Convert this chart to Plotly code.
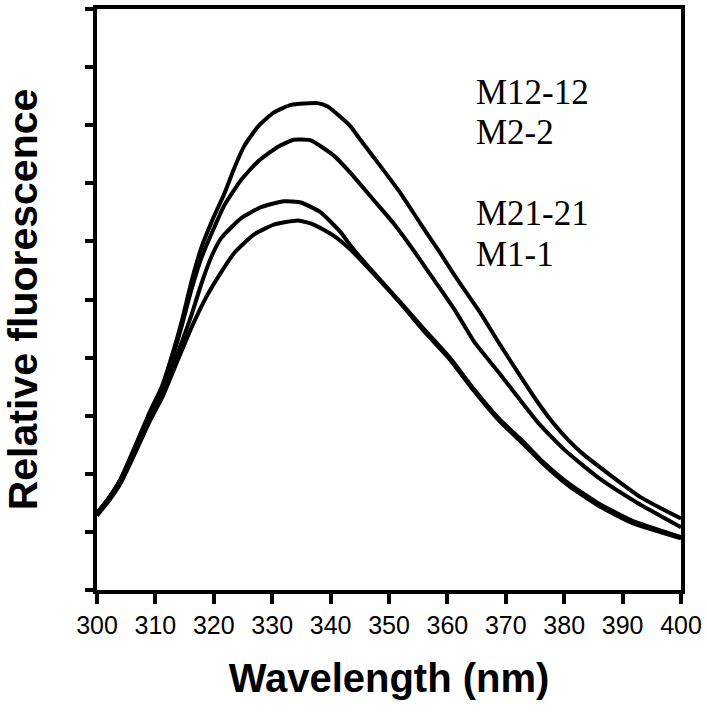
import plotly.graph_objects as go

# Wavelength (nm) and relative fluorescence for each mutant
wl_m12 = [300.0, 302.0, 304.0, 305.7, 307.4, 309.1, 311.1, 312.8, 314.5, 316.2, 317.9, 319.9, 321.8, 323.5,
          325.2, 327.6, 330.3, 333.2, 337.8, 339.5, 341.7, 343.4, 345.1, 348.5, 351.9, 355.3, 358.7, 361.2,
          365.5, 368.9, 372.3, 375.2, 377.9, 380.8, 383.0, 387.6, 393.2, 400.0]
fl_m12 = [1.32, 1.58, 1.90, 2.28, 2.68, 3.08, 3.50, 4.02, 4.62, 5.32, 5.90, 6.40, 6.82, 7.26,
          7.64, 7.98, 8.22, 8.35, 8.38, 8.32, 8.14, 7.98, 7.75, 7.30, 6.84, 6.32, 5.81, 5.42,
          4.79, 4.24, 3.71, 3.27, 2.90, 2.57, 2.36, 2.00, 1.59, 1.23]

wl_m2 = [300.0, 302.0, 304.0, 305.7, 307.4, 309.1, 311.1, 312.8, 314.5, 316.2, 317.9, 319.9, 321.8, 324.7,
         327.6, 331.0, 333.7, 336.6, 340.5, 343.4, 347.3, 350.7, 354.1, 357.0, 361.2, 364.6, 368.9, 372.3,
         375.7, 380.3, 385.9, 392.7, 400.0]
fl_m2 = [1.32, 1.58, 1.90, 2.27, 2.66, 3.05, 3.46, 3.96, 4.54, 5.18, 5.72, 6.20, 6.62, 7.06,
         7.38, 7.63, 7.75, 7.74, 7.48, 7.18, 6.72, 6.32, 5.86, 5.44, 4.83, 4.27, 3.73, 3.29,
         2.86, 2.39, 1.93, 1.49, 1.08]

wl_m21 = [300.0, 302.0, 304.0, 305.7, 307.4, 309.1, 311.1, 313.6, 316.2, 317.9, 319.6, 321.3, 324.7, 328.1,
          332.0, 334.9, 338.3, 341.7, 343.4, 347.3, 351.9, 356.1, 360.4, 364.6, 368.9, 372.3, 376.2,
          380.8, 385.9, 391.5, 400.0]
fl_m21 = [1.32, 1.57, 1.87, 2.22, 2.60, 2.98, 3.38, 4.02, 4.74, 5.28, 5.74, 6.06, 6.40, 6.59,
          6.69, 6.67, 6.50, 6.16, 5.93, 5.47, 4.96, 4.48, 4.00, 3.45, 2.94, 2.62, 2.22,
          1.83, 1.49, 1.20, 0.91]

wl_m1 = [300.0, 302.0, 304.0, 305.7, 307.4, 309.1, 311.1, 313.6, 316.2, 318.7, 320.7, 323.5, 326.9, 330.3,
         334.4, 337.1, 340.5, 343.4, 347.3, 351.9, 356.1, 360.4, 364.6, 368.9, 372.3, 376.2, 380.8, 385.9,
         391.5, 400.0]
fl_m1 = [1.28, 1.53, 1.83, 2.18, 2.55, 2.92, 3.30, 3.90, 4.52, 5.04, 5.38, 5.80, 6.12, 6.29,
         6.36, 6.29, 6.10, 5.86, 5.45, 4.94, 4.44, 3.97, 3.42, 2.91, 2.58, 2.19, 1.79, 1.45,
         1.16, 0.89]

labels = ["M12-12", "M2-2", "M21-21", "M1-1"]
label_y = [8.56, 7.88, 6.48, 5.78]
x_ticks = [300, 310, 320, 330, 340, 350, 360, 370, 380, 390, 400]

fig = go.Figure()
for wl, fl, name in [(wl_m12, fl_m12, labels[0]), (wl_m2, fl_m2, labels[1]),
                     (wl_m21, fl_m21, labels[2]), (wl_m1, fl_m1, labels[3])]:
    fig.add_trace(go.Scatter(x=wl, y=fl, mode="lines", name=name,
                             line=dict(color="black", width=4, shape="spline", smoothing=0.5),
                             showlegend=False))

for lab, ly in zip(labels, label_y):
    fig.add_annotation(x=364.5, y=ly, xref="x", yref="y", text=lab, showarrow=False,
                       xanchor="left", yanchor="middle",
                       font=dict(family="Liberation Serif, Times New Roman, serif", size=35, color="black"))

fig.update_layout(
    width=707, height=720,
    margin=dict(l=97, r=24, t=5, b=130),
    paper_bgcolor="white", plot_bgcolor="white",
    font=dict(family="Liberation Sans, Arial, sans-serif", color="black"),
)
fig.update_xaxes(range=[300, 400], tickvals=x_ticks, ticktext=[str(v) for v in x_ticks],
                 ticks="outside", ticklen=10, tickwidth=4, tickcolor="black",
                 showline=True, linewidth=4, linecolor="black", mirror=True,
                 showgrid=False, zeroline=False,
                 tickfont=dict(size=25, family="Liberation Sans, Arial, sans-serif"),
                 title=dict(text="<b>Wavelength (nm)</b>", standoff=27,
                            font=dict(size=40, family="Liberation Sans, Arial, sans-serif")))
fig.update_yaxes(range=[0, 10], dtick=1, tick0=0, showticklabels=False,
                 ticks="outside", ticklen=8, tickwidth=4, tickcolor="black",
                 showline=True, linewidth=4, linecolor="black", mirror=True,
                 showgrid=False, zeroline=False,
                 title=dict(text="<b>Relative fluorescence</b>", standoff=50,
                            font=dict(size=41, family="Liberation Sans, Arial, sans-serif")))

fig.write_html("out.html", config={"displayModeBar": False},
               post_script="document.body.style.margin='0px';")
